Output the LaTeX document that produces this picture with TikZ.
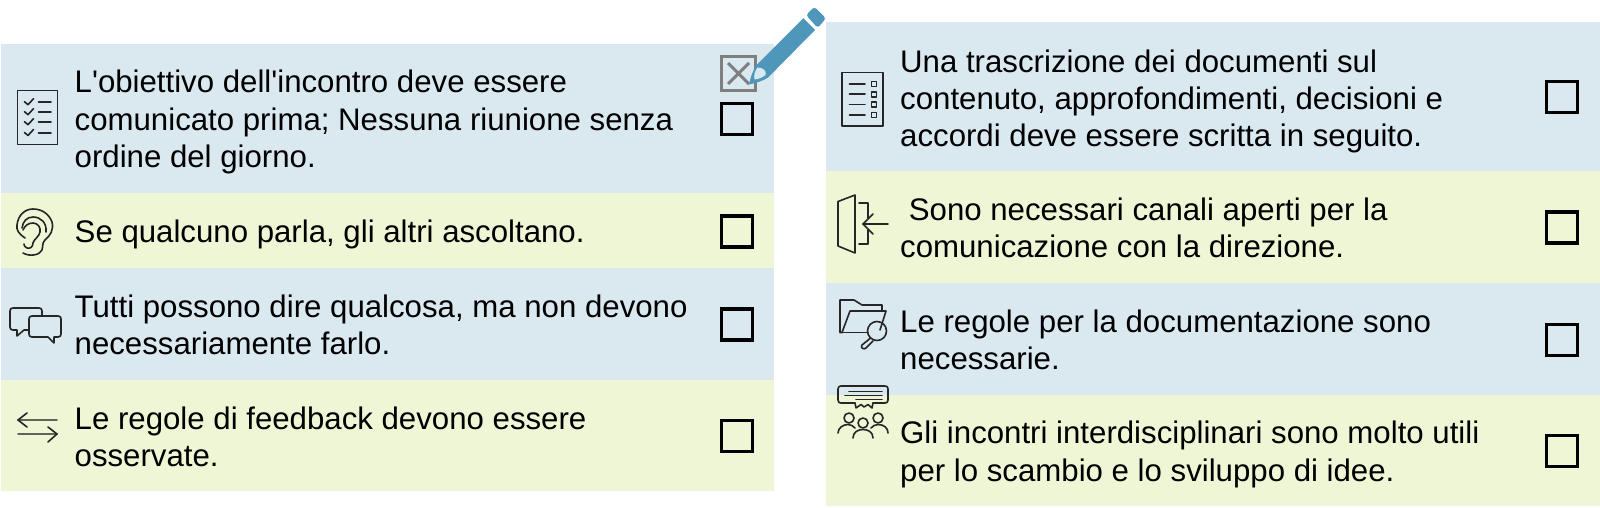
\documentclass[tikz,border=0pt]{standalone}
\usepackage{fontspec}
\newfontfamily\lsans{Liberation Sans}
\definecolor{rowblue}{HTML}{DAE8F0}
\definecolor{rowgreen}{HTML}{EFF6D6}
\definecolor{pen}{HTML}{4F97BA}
\definecolor{crossgrey}{HTML}{7F7F7F}
\definecolor{inkc}{HTML}{262626}
\tikzset{
  x=1pt,y=-1pt,
  lab/.style={anchor=west,align=left,inner sep=0pt,font=\lsans\fontsize{31.2}{37.2}\selectfont,text=black},
  tickbox/.style={draw=black,line width=3.3pt,minimum size=31pt,inner sep=0pt,outer sep=0pt,fill=none},
  ico/.style={draw=inkc,line width=1.6pt,fill=none,line cap=round,line join=round},
}
\begin{document}
\begin{tikzpicture}
\useasboundingbox (0,0) rectangle (1600,508);
\fill[white] (0,0) rectangle (1600,508);
% left rows
\fill[rowblue] (1,44) rectangle (774,193);
\fill[rowgreen] (1,193) rectangle (774,268);
\fill[rowblue] (1,268) rectangle (774,380);
\fill[rowgreen] (1,380) rectangle (774,491);
% right rows
\fill[rowblue] (826,22.5) rectangle (1600,170.5);
\fill[rowgreen] (826,170.5) rectangle (1600,282.7);
\fill[rowblue] (826,282.7) rectangle (1600,394.5);
\fill[rowgreen] (826,394.5) rectangle (1600,506);
% left text
\node[lab] (l1) at (74.5,122) {L'obiettivo dell'incontro deve essere\\comunicato prima; Nessuna riunione senza\\ordine del giorno.};
\node[lab] (l2) at (74.5,234) {Se qualcuno parla, gli altri ascoltano.};
\node[lab] (l3) at (74.5,325) {Tutti possono dire qualcosa, ma non devono\\necessariamente farlo.};
\node[lab] (l4) at (74.5,436.5) {Le regole di feedback devono essere\\osservate.};
% right text
\node[lab] (r1) at (900,101.5) {Una trascrizione dei documenti sul\\contenuto, approfondimenti, decisioni e\\accordi deve essere scritta in seguito.};
\node[lab] (r2) at (900,227.5) {\ Sono necessari canali aperti per la\\comunicazione con la direzione.};
\node[lab] (r3) at (900,340) {Le regole per la documentazione sono\\necessarie.};
\node[lab] (r4) at (900,454.5) {Gli incontri interdisciplinari sono molto utili\\per lo scambio e lo sviluppo di idee.};
% boxes
\node[tickbox] (bl1) at (737,119) {};
\node[tickbox] (bl2) at (737,231.6) {};
\node[tickbox] (bl3) at (737,324.5) {};
\node[tickbox] (bl4) at (737,436.2) {};
\node[tickbox] (br1) at (1562,97) {};
\node[tickbox] (br2) at (1562,227.5) {};
\node[tickbox] (br3) at (1562,339.8) {};
\node[tickbox] (br4) at (1562,451) {};
% crossed box
\node[draw=crossgrey,line width=3.3pt,minimum size=34pt,inner sep=0pt,outer sep=0pt] (bx) at (738.6,73.5) {};
\draw[crossgrey,line width=3pt] (728,63) -- (749,84) (749,63) -- (728,84);
% pencil
\fill[pen] (749,84.5) .. controls (751,76) and (753,70) .. (756.7,65) -- (803.3,18.3) -- (815,30) -- (768.3,77.3) .. controls (763,81) and (756,83) .. (749,84.5) -- cycle;
\fill[rowblue] (757.5,67.5) .. controls (763,67.5) and (767,71) .. (765.5,75) .. controls (762,78) and (758,79) .. (754.5,79.5) .. controls (753.5,75) and (755,71) .. (757.5,67.5) -- cycle;
\fill[pen,rounded corners=3pt] (806,15) -- (814.3,6.7) -- (826,18.3) -- (817.7,28) -- cycle;
% icon l1: checklist
\draw[ico] (17.5,90.5) rectangle (57.5,144.5);
\foreach \y in {101.7,111.7,121.7,132.5}{
  \draw[ico] (24.5,\y) -- (28,\y+3) -- (33.5,\y-3);
  \draw[ico] (38.5,\y+0.5) -- (51,\y+0.5);
}
% icon l2: ear
\draw[ico] (25,238) .. controls (19,234) and (16,230) .. (17,225) .. controls (18,215) and (25,209) .. (33,209) .. controls (42,209) and (49,214) .. (52,222) .. controls (54,230) and (50,236) .. (45,240) .. controls (42,243) and (43,247) .. (42,250) .. controls (40,255) and (30,257) .. (23,253);
\draw[ico] (22,228) .. controls (23,221) and (27,217) .. (33,217) .. controls (41,217) and (47,223) .. (46,232);
\draw[ico] (23,230) .. controls (25,225) and (29,223) .. (33,223) .. controls (38,223) and (41,228) .. (40,232) .. controls (39,237) and (34,239) .. (33,243) .. controls (33,247) and (30,249) .. (27,248) .. controls (25,247) and (24,246) .. (24,244);
% icon l3: bubbles
\draw[ico] (42,315) -- (42,311) .. controls (42,309) and (41,308) .. (39,308) -- (13,308) .. controls (11,308) and (10,309) .. (10,311) -- (10,327) .. controls (10,329) and (11,330) .. (13,330) -- (17,330) -- (17,336) -- (24,330) -- (29,330);
\draw[ico] (32,316) -- (58,316) .. controls (60,316) and (61,317) .. (61,319) -- (61,334) .. controls (61,336) and (60,337) .. (58,337) -- (54,337) -- (54,343) -- (48,337) -- (32,337) .. controls (30,337) and (29,336) .. (29,334) -- (29,319) .. controls (29,317) and (30,316) .. (32,316) -- cycle;
% icon l4: arrows
\draw[ico,draw=inkc!70!rowgreen] (18,420) -- (57,420) (18,434) -- (57,434);
\draw[ico] (27,413) -- (18,420) -- (27,427);
\draw[ico] (48,427) -- (57,434) -- (48,442);
% icon r1: list
\draw[ico] (842,72.5) rectangle (883,126);
\foreach \y in {84,94.3,104.7,115}{
  \draw[ico] (849.5,\y) -- (865,\y);
  \draw[ico] (871.5,\y-2.5) rectangle (876.5,\y+2.5);
}
% icon r2: door
\draw[ico] (838,201.5) -- (855,195) -- (855,253) -- (838,246) -- cycle;
\draw[ico] (859,203) -- (868,203) -- (868,218);
\draw[ico] (868,230) -- (868,244) -- (859,244);
\draw[ico] (863,224) -- (888,224);
\draw[ico] (873,214) -- (863,224) -- (873,234);
% icon r3: folder
\draw[ico] (842,332.5) -- (840,332.5) -- (840,300) -- (854,300) -- (862,305) -- (882,305) -- (882,311);
\draw[ico] (842,332.5) -- (850,311) -- (886,311) -- (880,330);
\draw[ico] (842,332.5) -- (868,332.5);
\draw[ico] (877,331) circle[radius=9.5];
\draw[ico] (870,338.5) -- (862,345) .. controls (860,348) and (864,350) .. (866,348) -- (873,341);
% icon r4: group
\draw[ico] (855,403) -- (841,403) .. controls (839,403) and (838,402) .. (838,400) -- (838,389) .. controls (838,387) and (839,386) .. (841,386) -- (885,386) .. controls (887,386) and (888,387) .. (888,389) -- (888,400) .. controls (888,402) and (887,403) .. (885,403) -- (873,403);
\draw[ico] (855,403) -- (856,408) -- (861,404.5) -- (864,407) -- (868,404.5) -- (872,408) -- (873,403);
\draw[ico] (849,391.5) -- (882,391.5) (845,395.5) -- (882,395.5) (856,399.5) -- (882,399.5);
\draw[ico] (849,418) circle[radius=5];
\draw[ico] (863,423) circle[radius=5];
\draw[ico] (878,418) circle[radius=5];
\draw[ico] (838,433) .. controls (838,428) and (843,424.5) .. (848,424.5) .. controls (851,424.5) and (853,426) .. (855,428);
\draw[ico] (871,428) .. controls (873,426) and (875,424.5) .. (878,424.5) .. controls (884,424.5) and (888,428) .. (888,433);
\draw[ico] (853,438) .. controls (853,432) and (858,429.5) .. (863,429.5) .. controls (868,429.5) and (873,432) .. (873,438);
\end{tikzpicture}
\end{document}
